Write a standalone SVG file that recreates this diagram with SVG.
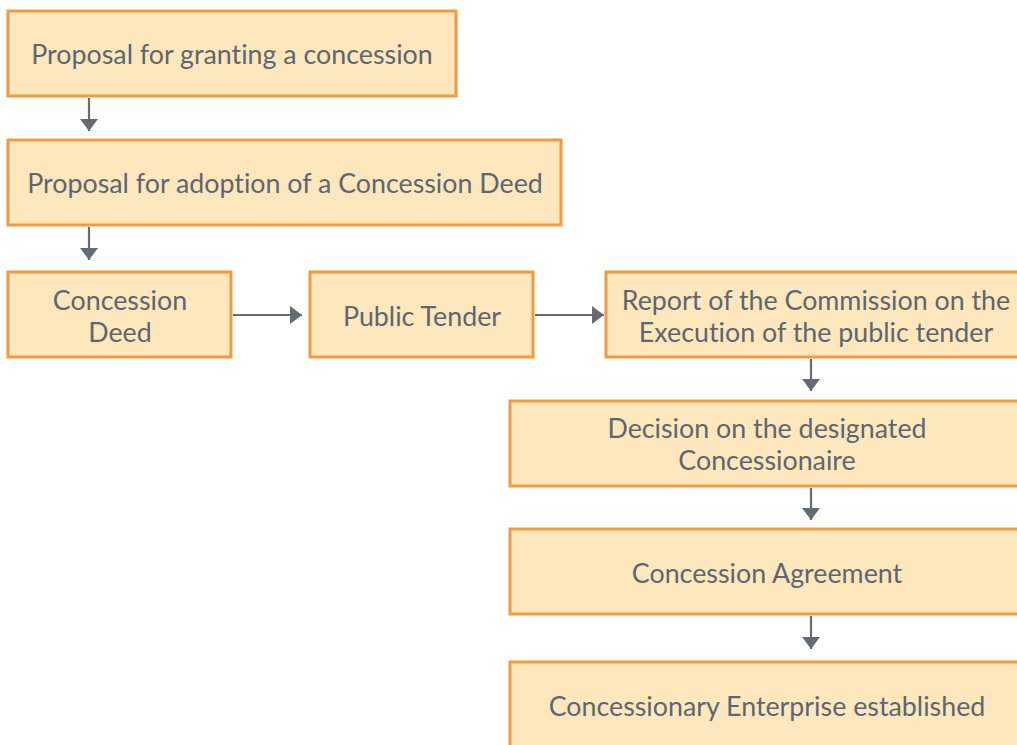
<svg xmlns="http://www.w3.org/2000/svg" width="1017" height="745" viewBox="0 0 1017 745">
  <style>
    .box { fill: #fde8bd; stroke: #f39a3e; stroke-width: 3; }
    .lbl { font-family: "Lato", "Liberation Sans", sans-serif; font-size: 26.8px; fill: #5f6670; text-anchor: middle; font-variant-ligatures: none; }
    .edge { stroke: #656b73; stroke-width: 2.2; fill: none; }
  </style>
  <defs>
    <marker id="arrow" viewBox="0 0 12 18" refX="12" refY="9" markerWidth="12" markerHeight="18" markerUnits="userSpaceOnUse" orient="auto">
      <path d="M0,0 L12,9 L0,18 Z" fill="#656b73"/>
    </marker>
  </defs>
  <rect width="1017" height="745" fill="#ffffff"/>

  <g id="connectors">
    <line class="edge" x1="89" y1="98" x2="89" y2="131" marker-end="url(#arrow)"/>
    <line class="edge" x1="89" y1="227" x2="89" y2="260" marker-end="url(#arrow)"/>
    <line class="edge" x1="233" y1="315" x2="302" y2="315" marker-end="url(#arrow)"/>
    <line class="edge" x1="535" y1="315" x2="604" y2="315" marker-end="url(#arrow)"/>
    <line class="edge" x1="811" y1="359" x2="811" y2="391" marker-end="url(#arrow)"/>
    <line class="edge" x1="811" y1="488" x2="811" y2="520" marker-end="url(#arrow)"/>
    <line class="edge" x1="811" y1="616" x2="811" y2="649" marker-end="url(#arrow)"/>
  </g>

  <g id="n-proposal-grant">
    <rect class="box" x="8" y="11" width="448" height="85"/>
    <text class="lbl" x="232" y="64">Proposal for granting a concession</text>
  </g>
  <g id="n-proposal-deed">
    <rect class="box" x="8" y="140" width="553" height="85"/>
    <text class="lbl" x="285" y="193">Proposal for adoption of a Concession Deed</text>
  </g>
  <g id="n-deed">
    <rect class="box" x="8" y="272" width="223" height="85"/>
    <text class="lbl" x="120" y="310">Concession</text>
    <text class="lbl" x="120" y="342">Deed</text>
  </g>
  <g id="n-tender">
    <rect class="box" x="310" y="272" width="223" height="85"/>
    <text class="lbl" x="422" y="326">Public Tender</text>
  </g>
  <g id="n-report">
    <rect class="box" x="606" y="272" width="430" height="85"/>
    <text class="lbl" x="816" y="310">Report of the Commission on the</text>
    <text class="lbl" x="816" y="342">Execution of the public tender</text>
  </g>
  <g id="n-decision">
    <rect class="box" x="510" y="401" width="530" height="85"/>
    <text class="lbl" x="767" y="438">Decision on the designated</text>
    <text class="lbl" x="767" y="470">Concessionaire</text>
  </g>
  <g id="n-agreement">
    <rect class="box" x="510" y="529" width="530" height="85"/>
    <text class="lbl" x="767" y="583">Concession Agreement</text>
  </g>
  <g id="n-enterprise">
    <rect class="box" x="510" y="662" width="530" height="100"/>
    <text class="lbl" x="767" y="716">Concessionary Enterprise established</text>
  </g>
</svg>
